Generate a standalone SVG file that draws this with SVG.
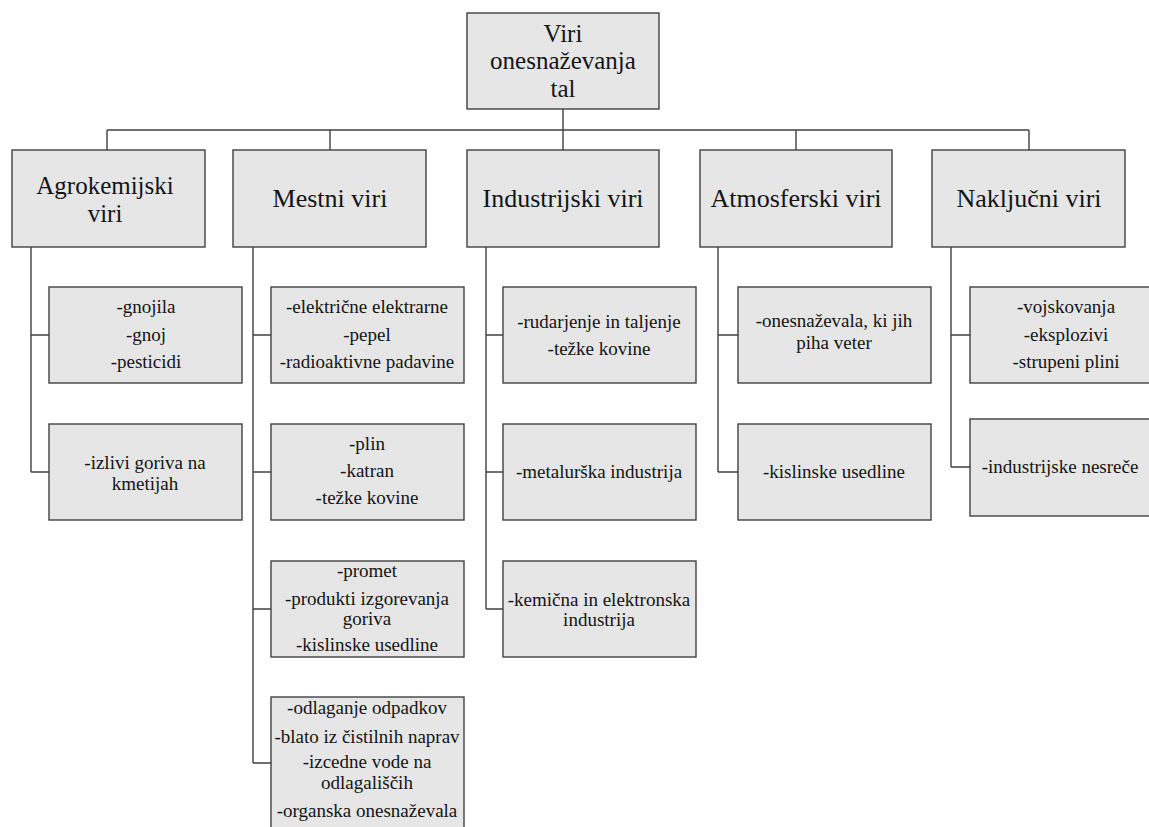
<svg xmlns="http://www.w3.org/2000/svg" width="1149" height="827" viewBox="0 0 1149 827" font-family="Liberation Serif, Times New Roman, serif">
<style>
.box{fill:#e6e6e6;stroke:#404040;stroke-width:1.4}
.ln{fill:none;stroke:#404040;stroke-width:1.4}
text{font-family:'Liberation Serif','Times New Roman',serif;fill:#141414;text-anchor:middle}
.t1{font-size:26px}
.t1m{font-size:25px}
.t2{font-size:19px}
</style>
<rect width="1149" height="827" fill="#ffffff"/>
<g id="connectors">
<path class="ln" d="M563,109V150M107,130H1029M107,130V150M330,130V150M796,130V150M1029,130V150"/>
<path class="ln" d="M31,247V472M31,335H49M31,472H49"/>
<path class="ln" d="M253,247V763M253,335H271M253,472H271M253,609H271M253,763H271"/>
<path class="ln" d="M486,247V609M486,335H503M486,472H503M486,609H503"/>
<path class="ln" d="M718,247V472M718,335H738M718,472H738"/>
<path class="ln" d="M951,247V467M951,335H970M951,467H970"/>
</g>
<g id="root">
<rect class="box" x="467" y="13" width="192" height="96"/>
<text class="t1m"><tspan x="563" y="41.5">Viri</tspan><tspan x="563" y="69.4">onesnaževanja</tspan><tspan x="563" y="97.3">tal</tspan></text>
</g>
<g id="agro">
<rect class="box" x="12" y="150" width="193" height="97"/>
<text class="t1m"><tspan x="105" y="194">Agrokemijski</tspan><tspan x="105" y="222">viri</tspan></text>
</g>
<g id="mestni">
<rect class="box" x="233" y="150" width="193" height="97"/>
<text class="t1" x="330" y="207">Mestni viri</text>
</g>
<g id="industrijski">
<rect class="box" x="467" y="150" width="192" height="97"/>
<text class="t1" x="563" y="207">Industrijski viri</text>
</g>
<g id="atmosferski">
<rect class="box" x="700" y="150" width="192" height="97"/>
<text class="t1" x="796" y="207">Atmosferski viri</text>
</g>
<g id="nakljucni">
<rect class="box" x="932" y="150" width="193" height="97"/>
<text class="t1" x="1029" y="207">Naključni viri</text>
</g>
<g id="agro1">
<rect class="box" x="49" y="287" width="193" height="96"/>
<text class="t2"><tspan x="146" y="313">-gnojila</tspan><tspan x="146" y="341">-gnoj</tspan><tspan x="146" y="368">-pesticidi</tspan></text>
</g>
<g id="agro2">
<rect class="box" x="49" y="424" width="193" height="96"/>
<text class="t2"><tspan x="145" y="469">-izlivi goriva na</tspan><tspan x="145" y="490">kmetijah</tspan></text>
</g>
<g id="mestni1">
<rect class="box" x="271" y="287" width="193" height="96"/>
<text class="t2"><tspan x="367" y="313">-električne elektrarne</tspan><tspan x="367" y="341">-pepel</tspan><tspan x="367" y="368">-radioaktivne padavine</tspan></text>
</g>
<g id="mestni2">
<rect class="box" x="271" y="424" width="193" height="96"/>
<text class="t2"><tspan x="367" y="450">-plin</tspan><tspan x="367" y="477">-katran</tspan><tspan x="367" y="504">-težke kovine</tspan></text>
</g>
<g id="mestni3">
<rect class="box" x="271" y="561" width="193" height="96"/>
<text class="t2"><tspan x="367" y="577">-promet</tspan><tspan x="367" y="605">-produkti izgorevanja</tspan><tspan x="367" y="625">goriva</tspan><tspan x="367" y="651">-kislinske usedline</tspan></text>
</g>
<g id="mestni4">
<rect class="box" x="271" y="697" width="193" height="140"/>
<text class="t2"><tspan x="367" y="714">-odlaganje odpadkov</tspan><tspan x="367" y="743">-blato iz čistilnih naprav</tspan><tspan x="367" y="768">-izcedne vode na</tspan><tspan x="367" y="789">odlagališčih</tspan><tspan x="367" y="817">-organska onesnaževala</tspan></text>
</g>
<g id="ind1">
<rect class="box" x="503" y="287" width="193" height="96"/>
<text class="t2"><tspan x="599" y="328">-rudarjenje in taljenje</tspan><tspan x="599" y="355">-težke kovine</tspan></text>
</g>
<g id="ind2">
<rect class="box" x="503" y="424" width="193" height="96"/>
<text class="t2" x="599" y="478">-metalurška industrija</text>
</g>
<g id="ind3">
<rect class="box" x="503" y="561" width="193" height="96"/>
<text class="t2"><tspan x="599" y="606">-kemična in elektronska</tspan><tspan x="599" y="626">industrija</tspan></text>
</g>
<g id="atm1">
<rect class="box" x="738" y="287" width="193" height="96"/>
<text class="t2"><tspan x="834" y="327">-onesnaževala, ki jih</tspan><tspan x="834" y="349">piha veter</tspan></text>
</g>
<g id="atm2">
<rect class="box" x="738" y="424" width="193" height="96"/>
<text class="t2" x="834" y="478">-kislinske usedline</text>
</g>
<g id="nak1">
<rect class="box" x="970" y="287" width="193" height="96"/>
<text class="t2"><tspan x="1066" y="313">-vojskovanja</tspan><tspan x="1066" y="341">-eksplozivi</tspan><tspan x="1066" y="368">-strupeni plini</tspan></text>
</g>
<g id="nak2">
<rect class="box" x="970" y="419" width="193" height="97"/>
<text class="t2" x="1060" y="473">-industrijske nesreče</text>
</g>
</svg>
